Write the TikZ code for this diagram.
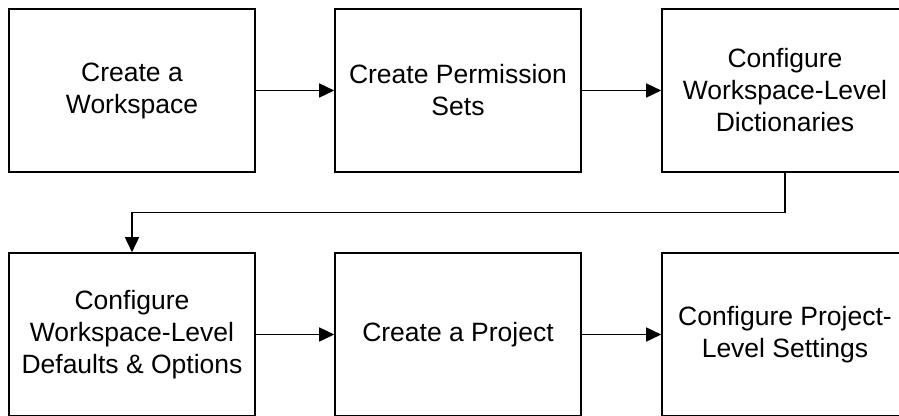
\documentclass[tikz,border=0pt]{standalone}
\usepackage{fontspec}
\setmainfont{Liberation Sans}
\usetikzlibrary{arrows.meta}
\begin{document}
\begin{tikzpicture}[x=1pt,y=-1pt,
	stepbox/.style={draw,line width=1.6pt,minimum width=246pt,minimum height=163pt,align=center,inner sep=0pt,font=\fontsize{26.5}{32}\selectfont},
	flow/.style={line width=1.6pt,-{Triangle[length=15pt,width=14pt]}}]
	\useasboundingbox (0,0) rectangle (899,415);
	\node[stepbox] (ws) at (132,90.5) {Create a\\Workspace};
	\node[stepbox] (perm) at (458,90.5) {Create Permission\\Sets};
	\node[stepbox] (dict) at (785,90.5) {Configure\\Workspace-Level\\Dictionaries};
	\node[stepbox] (defs) at (132,334.5) {Configure\\Workspace-Level\\Defaults \& Options};
	\node[stepbox] (proj) at (458,334.5) {Create a Project};
	\node[stepbox] (settings) at (785,334.5) {Configure Project-\\Level Settings};
	\draw[flow] (ws) -- (perm);
	\draw[flow] (perm) -- (dict);
	\draw[flow] (dict.south) |- (132,212.5) -- (defs.north);
	\draw[flow] (defs) -- (proj);
	\draw[flow] (proj) -- (settings);
\end{tikzpicture}
\end{document}
